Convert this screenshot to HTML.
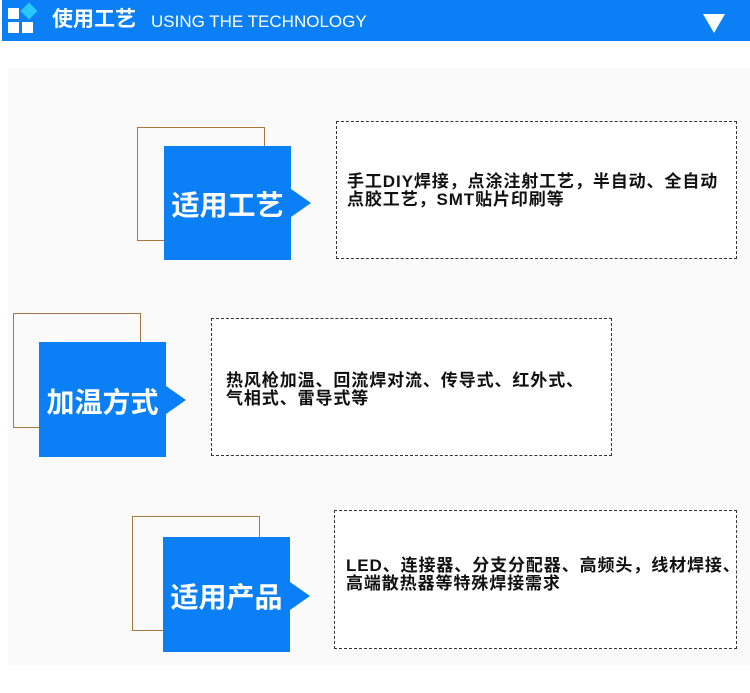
<!DOCTYPE html>
<html><head><meta charset="utf-8"><style>
body{margin:0;width:750px;height:693px;background:#fff;position:relative;overflow:hidden;font-family:"Liberation Sans","Noto Sans CJK SC",sans-serif}
.a{position:absolute;box-sizing:border-box}
.hdr{left:2px;top:0;width:748px;height:41px;background:#0b80f6}
.o{border:1px solid #a8773f}
.b{background:#0b80f6;color:#fff;font-weight:bold;font-size:28px;display:flex;align-items:center;justify-content:center;padding-top:2px}
.tri{width:0;height:0;border-top:14px solid transparent;border-bottom:14px solid transparent;border-left:20px solid #0b80f6}
.d{border:1px dashed #333;background:#fff}
.t{font-size:17px;letter-spacing:0.9px;font-weight:bold;color:#111;line-height:18px;white-space:nowrap}
</style></head><body>
<div class="a hdr"></div>
<div class="a" style="left:8px;top:8px;width:11px;height:11px;background:#fff"></div>
<div class="a" style="left:8px;top:22px;width:11px;height:11px;background:#fff"></div>
<div class="a" style="left:22px;top:22px;width:11px;height:11px;background:#fff"></div>
<div class="a" style="left:23px;top:5px;width:12px;height:12px;background:#29c6ff;transform:rotate(45deg)"></div>
<div class="a" style="left:52px;top:7px;color:#fff;font-size:21px;font-weight:bold;line-height:26px">使用工艺</div>
<div class="a" style="left:151px;top:11px;color:#fff;font-size:17px;line-height:22px">USING THE TECHNOLOGY</div>
<div class="a" style="left:703px;top:14px;width:0;height:0;border-left:11px solid transparent;border-right:11px solid transparent;border-top:19px solid #fff"></div>
<div class="a" style="left:8px;top:68px;width:742px;height:597px;background:#fafafa"></div>

<div class="a o" style="left:137px;top:127px;width:128px;height:114px"></div>
<div class="a b" style="left:164px;top:146px;width:127px;height:114px">适用工艺</div>
<div class="a tri" style="left:291px;top:189px"></div>
<div class="a d" style="left:336px;top:121px;width:401px;height:138px"></div>
<div class="a t" style="left:347px;top:173px">手工DIY焊接，点涂注射工艺，半自动、全自动<br>点胶工艺，SMT贴片印刷等</div>

<div class="a o" style="left:13px;top:313px;width:128px;height:115px"></div>
<div class="a b" style="left:39px;top:342px;width:127px;height:115px">加温方式</div>
<div class="a tri" style="left:166px;top:386px"></div>
<div class="a d" style="left:211px;top:318px;width:401px;height:138px"></div>
<div class="a t" style="left:226px;top:372px">热风枪加温、回流焊对流、传导式、红外式、<br>气相式、雷导式等</div>

<div class="a o" style="left:132px;top:516px;width:128px;height:115px"></div>
<div class="a b" style="left:163px;top:537px;width:127px;height:115px">适用产品</div>
<div class="a tri" style="left:290px;top:582px"></div>
<div class="a d" style="left:334px;top:510px;width:403px;height:139px"></div>
<div class="a t" style="left:346px;top:557px">LED、连接器、分支分配器、高频头，线材焊接、<br>高端散热器等特殊焊接需求</div>
</body></html>
